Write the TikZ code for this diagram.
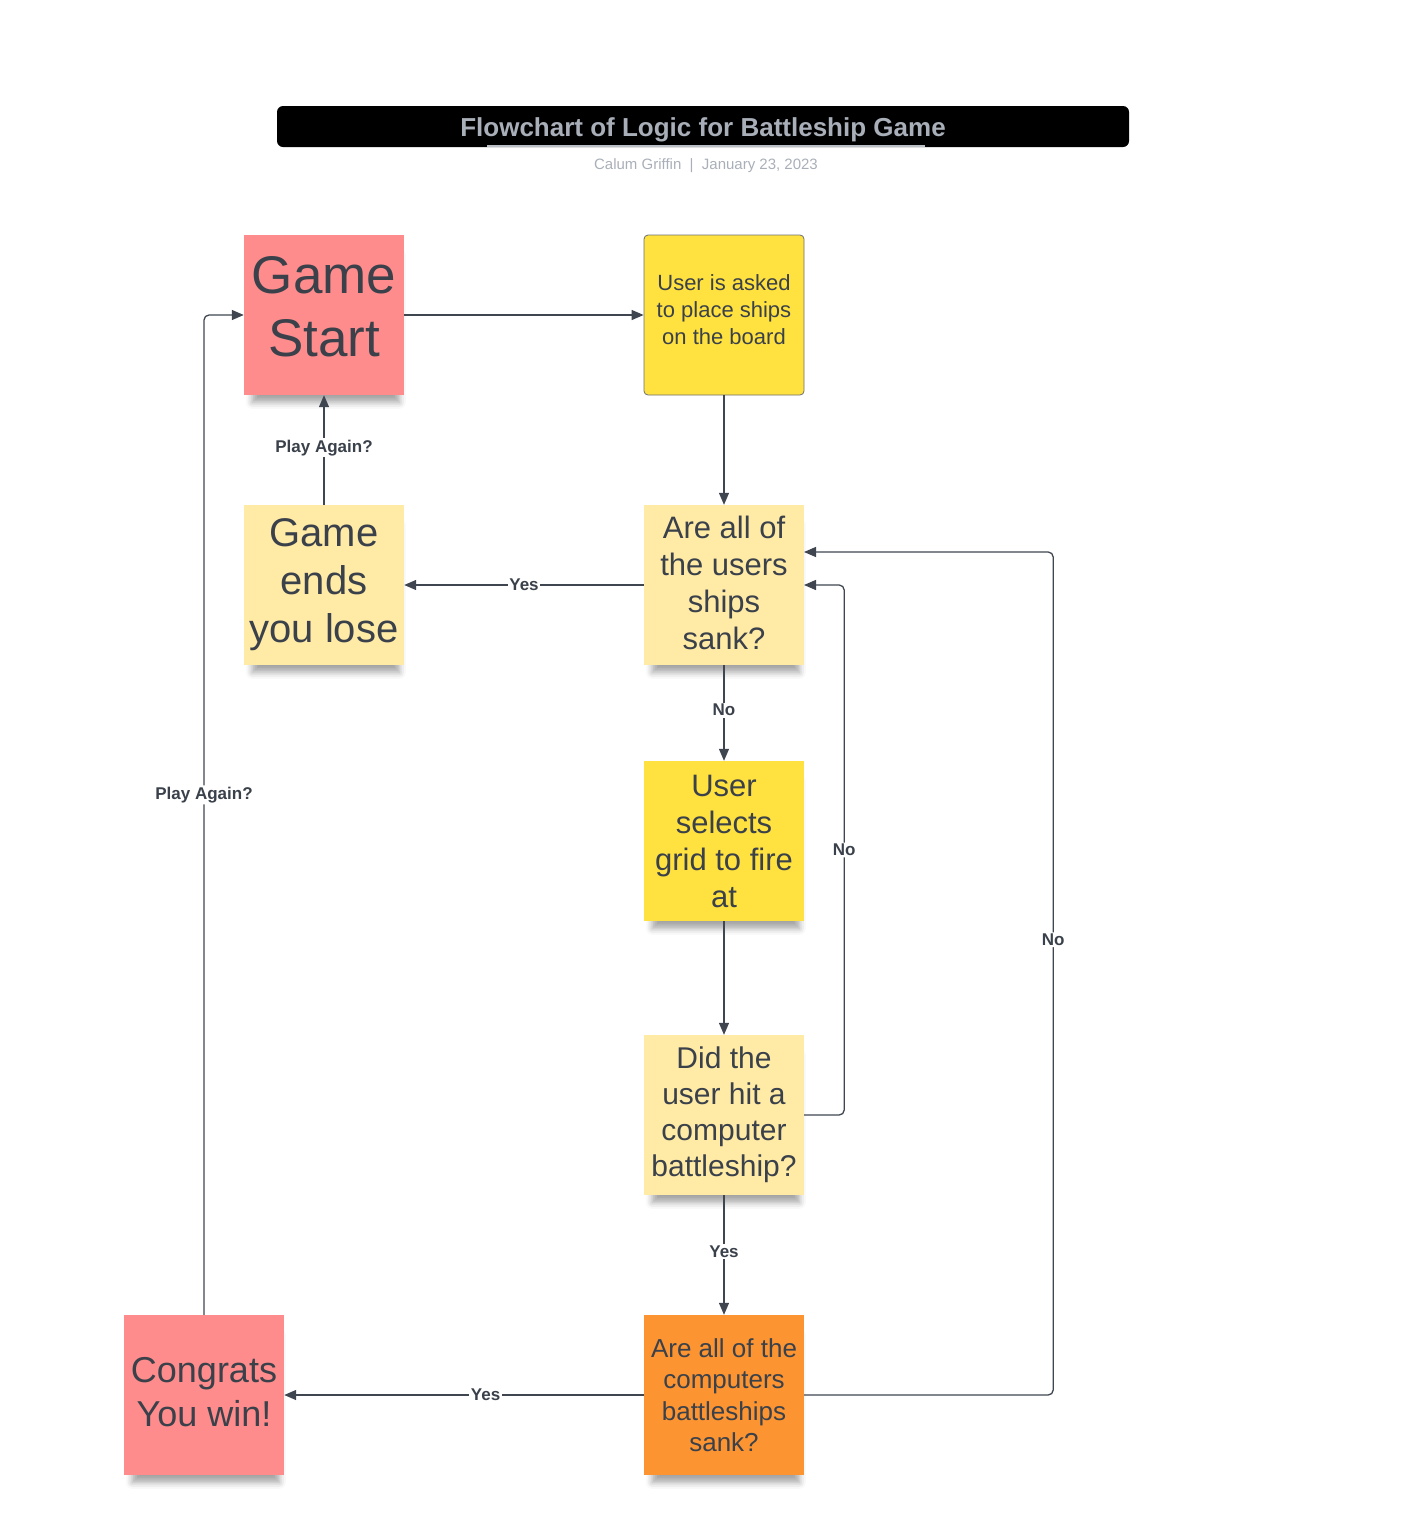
\documentclass[tikz,border=0pt]{standalone}
\usepackage{fontspec}
\setmainfont{Liberation Sans}
\usetikzlibrary{positioning,arrows.meta,calc,shadows.blur}
\definecolor{ink}{HTML}{3A414A}
\definecolor{wire}{HTML}{3F4650}
\definecolor{salmon}{HTML}{FF8C8C}
\definecolor{pale}{HTML}{FFEAA6}
\definecolor{sun}{HTML}{FFE13F}
\definecolor{amber}{HTML}{FC9432}
\definecolor{haze}{HTML}{A9AFB8}
\definecolor{rim}{HTML}{6B6F75}
\tikzset{
  base/.style  = {minimum width=160, minimum height=160, inner sep=0, align=center, text=ink},
  card/.style  = {base, blur shadow={shadow xshift=2pt, shadow yshift=-15pt, shadow scale=0.92,
                  shadow opacity=36, shadow blur radius=7pt}},
  flat/.style  = {base, draw=rim, line width=0.8pt, rounded corners=4pt},
  flow/.style  = {-{Triangle[length=12pt, width=10pt]}, draw=wire, line width=1.3pt},
  loop/.style  = {flow, rounded corners=5pt},
  lbl/.style   = {fill=white, inner sep=1.5pt, text=ink, font=\bfseries\fontsize{17}{19}\selectfont},
  bar/.style   = {fill=black, rounded corners=6pt, minimum width=852, minimum height=41, inner sep=0,
                  text height=20pt, text depth=0pt,
                  text=haze, font=\bfseries\fontsize{26}{30}\selectfont},
  byline/.style = {text=haze, font=\fontsize{15}{17}\selectfont},
}
\newcommand{\card}[5]{\node[card, fill=#2, font=#4] (#1) at (#3) {#5};}
\newcommand{\szA}{\fontsize{53}{63}\selectfont}
\newcommand{\szB}{\fontsize{40}{48}\selectfont}
\newcommand{\szC}{\fontsize{31}{37}\selectfont}
\newcommand{\szD}{\fontsize{30}{36}\selectfont}
\newcommand{\szE}{\fontsize{26}{31.5}\selectfont}
\newcommand{\szF}{\fontsize{36}{44}\selectfont}

\begin{document}
\begin{tikzpicture}[x=1pt,y=-1pt]
\useasboundingbox (0,0) rectangle (1414,1521);

% ------------------------------------------------------------------ heading
\node[bar] (title) at (703,126.5) {Flowchart of Logic for Battleship Game};
\coordinate (ulA) at (487,145.5);
\coordinate (ulB) at (925,145.5);
\draw[haze!80, line width=2pt] (ulA) -- (ulB);
\node[byline] (by) at (706,166) {Calum Griffin~~|~~January 23, 2023};

% ------------------------------------------------------------------ the cards
\card{start}{salmon}{324,315}{\szA}{Game\\Start\\[-45pt]}
\node[flat, fill=sun, font=\fontsize{22}{27}\selectfont] (place) at (724,315)
  {User is asked\\to place ships\\on the board\\[-17pt]};
\card{lose}{pale}{324,585}{\szB}{Game\\ends\\you lose}
\card{usunk}{pale}{724,585}{\szC}{Are all of\\the users\\ships\\sank?\\[-33pt]}
\card{select}{sun}{724,841}{\szC}{User\\selects\\grid to fire\\at}
\card{hit}{pale}{724,1115}{\szD}{Did the\\user hit a\\computer\\battleship?}
\card{csunk}{amber}{724,1395}{\szE}{Are all of the\\computers\\battleships\\sank?}
\card{win}{salmon}{204,1395}{\szF}{Congrats\\You win!\\[-38pt]}

\coordinate (usinA) at (804,552);
\coordinate (usinB) at (804,585);

% ------------------------------------------------------------------ the flow
\draw[flow] (start) -- (place);
\draw[flow] (place) -- (usunk);
\draw[flow] (usunk) -- node[lbl]{Yes} (lose);
\draw[flow] (lose) -- node[lbl, pos=0.52]{Play Again?} (start);
\draw[flow] (usunk) -- node[lbl, pos=0.47]{No} (select);
\draw[flow] (select) -- (hit);
\draw[flow] (hit) -- node[lbl, pos=0.47]{Yes} (csunk);
\draw[flow] (csunk) -- node[lbl, pos=0.44]{Yes} (win);

% ------------------------------------------------------------------ loops back
\draw[loop] (hit.east) -- ++(40,0) |- node[lbl, pos=0.25]{No} (usinB);
\draw[loop] (csunk.east) -- ++(249,0) |- node[lbl, pos=0.27]{No} (usinA);
\draw[loop] (win.north) |- node[lbl, pos=0.26]{Play Again?} (start.west);

\end{tikzpicture}
\end{document}
